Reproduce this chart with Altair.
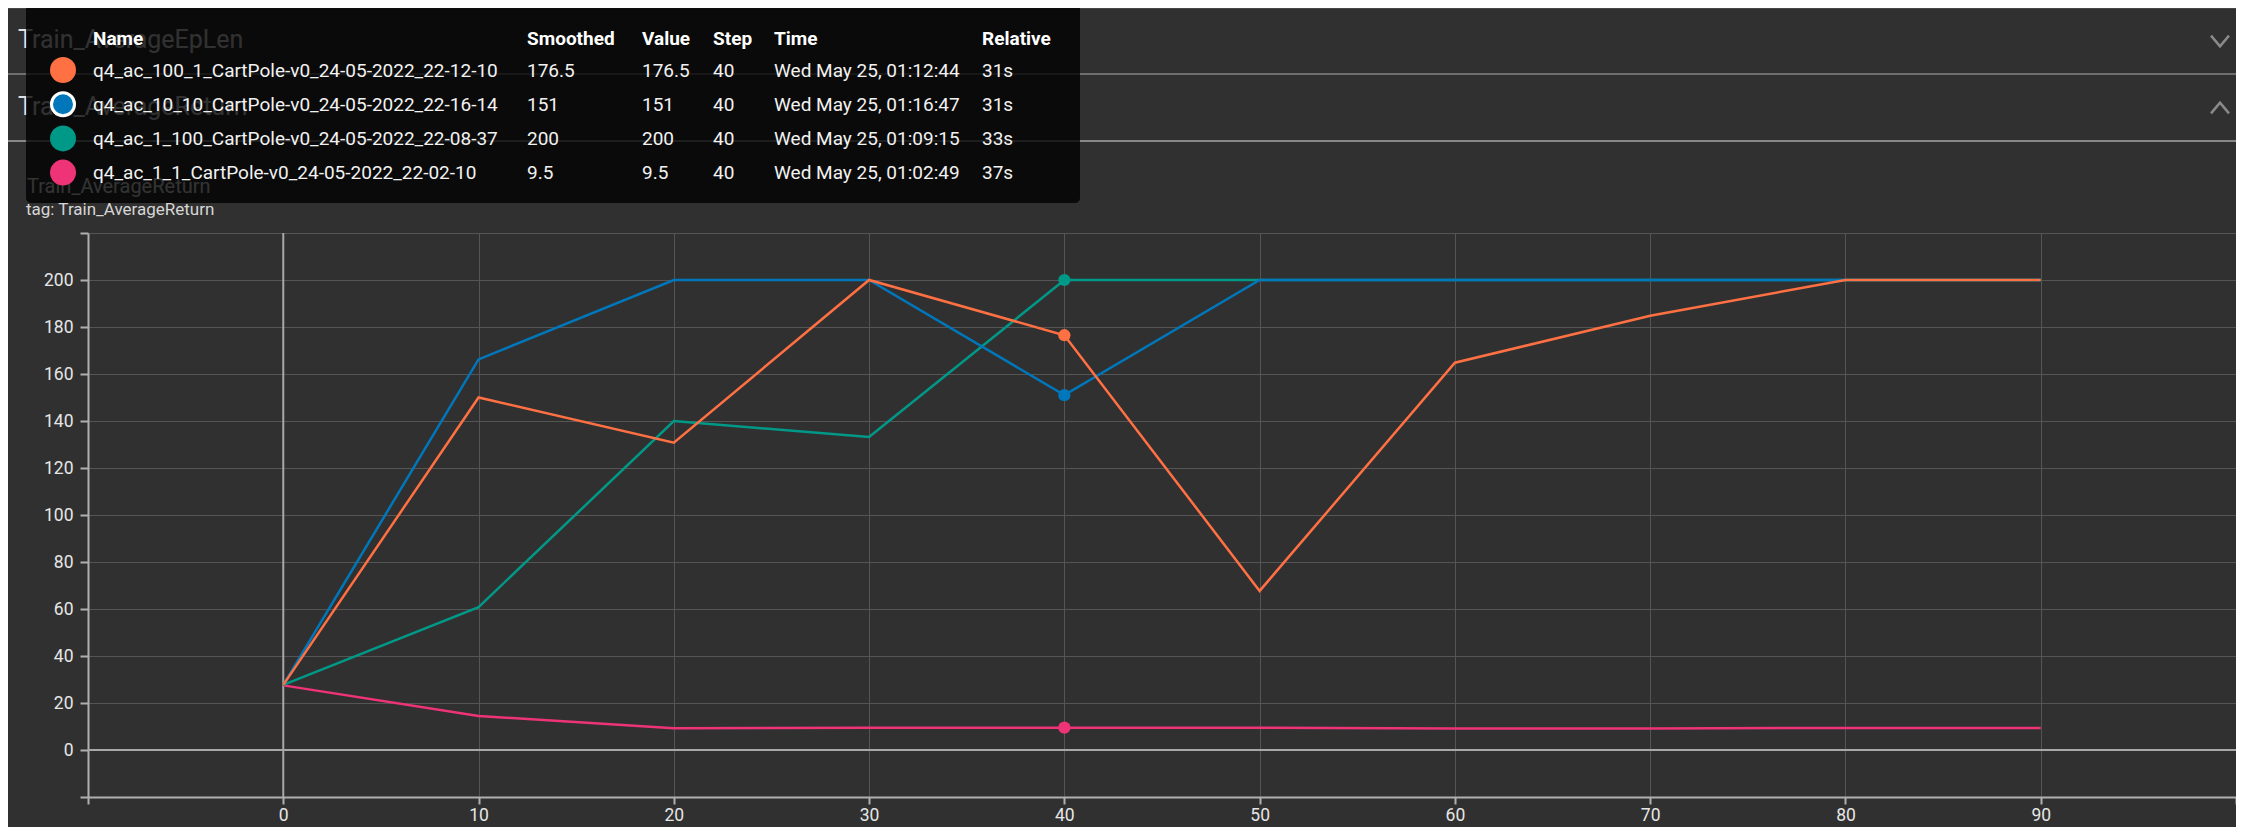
import altair as alt
import pandas as pd

# ---------------- data ----------------
steps = [0, 10, 20, 30, 40, 50, 60, 70, 80, 90]
run_names = [
    "q4_ac_100_1_CartPole-v0_24-05-2022_22-12-10",
    "q4_ac_10_10_CartPole-v0_24-05-2022_22-16-14",
    "q4_ac_1_100_CartPole-v0_24-05-2022_22-08-37",
    "q4_ac_1_1_CartPole-v0_24-05-2022_22-02-10",
]
run_colors = ["#ff7043", "#0077bb", "#009988", "#ee3377"]
ret_100_1 = [27.7, 150.0, 130.8, 200.0, 176.5, 67.7, 164.8, 184.8, 200.0, 200.0]
ret_10_10 = [27.7, 166.2, 200.0, 200.0, 151.0, 200.0, 200.0, 200.0, 200.0, 200.0]
ret_1_100 = [27.7, 60.8, 140.0, 133.2, 200.0, 200.0, 200.0, 200.0, 200.0, 200.0]
ret_1_1 = [27.5, 14.5, 9.3, 9.5, 9.5, 9.5, 9.1, 9.2, 9.4, 9.4]
series = [ret_100_1, ret_10_10, ret_1_100, ret_1_1]

hover_step = 40
smoothed_txt = ["176.5", "151", "200", "9.5"]
value_txt = ["176.5", "151", "200", "9.5"]
step_txt = ["40", "40", "40", "40"]
time_txt = [
    "Wed May 25, 01:12:44",
    "Wed May 25, 01:16:47",
    "Wed May 25, 01:09:15",
    "Wed May 25, 01:02:49",
]
relative_txt = ["31s", "31s", "33s", "37s"]
col_headers = ["Name", "Smoothed", "Value", "Step", "Time", "Relative"]

group_titles = ["Train_AverageEpLen", "Train_AverageReturn"]
card_title = "Train_AverageReturn"
card_tag = "tag: Train_AverageReturn"

x_ticks = list(range(-10, 101, 10))
y_ticks = list(range(-20, 221, 20))

rows = []
for name, vals in zip(run_names, series):
    for s, v in zip(steps, vals):
        rows.append({"run": name, "step": s, "value": v})
df = pd.DataFrame(rows)

# ---------------- layout constants ----------------
W, H = 2148, 564
TOP = 225          # plot top inside the svg
OFF = TOP - 226    # shift applied to the decorations laid out for TOP=226
BG = "#303030"
FONT = "Roboto"

x_enc = alt.X(
    "step:Q",
    scale=alt.Scale(domain=[-10, 100], nice=False, zero=False),
    axis=alt.Axis(
        values=x_ticks,
        labelExpr="datum.value < 0 || datum.value > 90 ? '' : datum.label",
        title=None,
        grid=True,
        tickSize=7,
        labelPadding=2,
    ),
)
y_enc = alt.Y(
    "value:Q",
    scale=alt.Scale(domain=[-20, 220], nice=False, zero=False),
    axis=alt.Axis(
        values=y_ticks,
        labelExpr="datum.value < 0 || datum.value > 200 ? '' : datum.label",
        title=None,
        grid=True,
        tickSize=8,
        labelPadding=7,
    ),
)

base = alt.Chart(df)
one = alt.Data(values=[{}])

layers = []

# zero lines
layers.append(alt.Chart(one).mark_rule(color="#a8a8a8", strokeWidth=2).encode(y=alt.datum(0)))
layers.append(alt.Chart(one).mark_rule(color="#a8a8a8", strokeWidth=2).encode(x=alt.datum(0)))

# series lines, drawn bottom to top: pink, teal, blue, orange
for i in [3, 2, 1, 0]:
    layers.append(
        base.transform_filter(alt.datum.run == run_names[i])
        .mark_line(color=run_colors[i], strokeWidth=2.5)
        .encode(x=x_enc, y=y_enc)
    )
for i in [3, 2, 1, 0]:
    layers.append(
        base.transform_filter((alt.datum.run == run_names[i]) & (alt.datum.step == hover_step))
        .mark_point(filled=True, opacity=1, size=150, color=run_colors[i])
        .encode(x=x_enc, y=y_enc)
    )

# ---------------- page decorations (pixel layout) ----------------
def rule_h(y, color, width):
    return alt.Chart(one).mark_rule(color=color, strokeWidth=width).encode(
        x=alt.value(-80), x2=alt.value(W), y=alt.value(y - OFF)
    )

def txt(s, x, y, size, color, weight="normal", **kw):
    return alt.Chart(one).mark_text(
        align="left", baseline="alphabetic", font=FONT, fontSize=size,
        color=color, fontWeight=weight, **kw
    ).encode(x=alt.value(x), y=alt.value(y - OFF), text=alt.value(s))

deco = [
    rule_h(-227, "#8a8a8a", 2.5),
    rule_h(-160, "#6e6e6e", 2),
    rule_h(-93, "#dddddd", 1.2),
    txt(group_titles[0], -70, -186, 25, "#e0e0e0"),
    txt(group_titles[1], -70, -119, 25, "#e0e0e0"),
    txt(card_title, -61, -41, 20, "#e8e8e8"),
    txt(card_tag, -62, -19, 17, "#d6d6d6"),
]
for y, path in [(-193, "M-1,-0.6L0,0.6L1,-0.6"), (-126, "M-1,0.6L0,-0.6L1,0.6")]:
    deco.append(
        alt.Chart(one).mark_point(
            shape=path, filled=False, size=324, color="#8a8a8a", strokeWidth=2.5, opacity=1
        ).encode(x=alt.value(2132), y=alt.value(y - OFF))
    )

# tooltip box
tip = [
    alt.Chart(one).mark_rect(color="#000000", opacity=0.78, cornerRadius=5).encode(
        x=alt.value(-62), x2=alt.value(992), y=alt.value(-240), y2=alt.value(-31 - OFF)
    )
]
col_x = [5, 439, 554, 625, 686, 894]
for h, cx in zip(col_headers, col_x):
    tip.append(txt(h, cx, -189, 19, "#ffffff", weight="bold"))
for lines, cx in zip([run_names, smoothed_txt, value_txt, step_txt, time_txt, relative_txt], col_x):
    tip.append(txt(lines, cx, -157.3, 19, "#f2f2f2", lineHeight=34.2))
for i, c in enumerate(run_colors):
    y = -164 + i * 34.2 - OFF
    if i == 1:
        mk = alt.Chart(one).mark_point(
            filled=True, opacity=1, size=529, fill=c, stroke="#ffffff", strokeWidth=3, strokeOpacity=1
        )
    else:
        mk = alt.Chart(one).mark_point(filled=True, opacity=1, size=676, color=c)
    tip.append(mk.encode(x=alt.value(-25), y=alt.value(y)))

chart = (
    alt.layer(*deco, *layers, *tip)
    .properties(
        width=W,
        height=H,
        background=BG,
        padding={"left": 80, "top": TOP, "right": 0, "bottom": 30},
        autosize=alt.AutoSizeParams(type="none"),
    )
    .configure(font=FONT)
    .configure_view(stroke=None)
    .configure_axis(
        domainColor="#b0b0b0",
        domainWidth=2,
        tickColor="#b0b0b0",
        tickWidth=2,
        labelColor="#e6e6e6",
        labelFont=FONT,
        labelFontSize=17.5,
        gridColor="#555555",
        gridWidth=1,
    )
)

chart.save("out.html", embed_options={"renderer": "svg", "actions": False})
